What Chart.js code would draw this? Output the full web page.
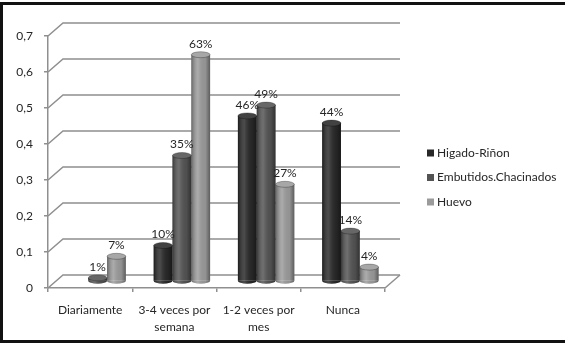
<!DOCTYPE html>
<html lang="es">
<head>
  <meta charset="UTF-8" />
  <title>Frecuencia de consumo</title>
  <script src="https://cdn.jsdelivr.net/npm/chart.js@4"></script>
  <style>
    body { margin: 0; background: #fff; }
    .frame { position: relative; width: 565px; height: 343px; }
    .frame canvas { position: absolute; left: 0; top: 0; }
    .frame .edge {
      position: absolute; left: 0; top: 2px; right: 0; bottom: 0;
      border: 3px solid #111; border-right: none; pointer-events: none;
    }
  </style>
</head>
<body>
  <div class="frame">
    <canvas id="chart" width="565" height="343"></canvas>
    <div class="edge"></div>
  </div>

  <script>
    const categories = ['Diariamente', ['3-4 veces por', 'semana'], ['1-2 veces por', 'mes'], 'Nunca']
    const higadoRinon = [null, 0.10, 0.46, 0.44]
    const embutidos = [0.01, 0.35, 0.49, 0.14]
    const huevo = [0.07, 0.63, 0.27, 0.04]
    const seriesNames = ['Higado-Riñon', 'Embutidos.Chacinados', 'Huevo']
    const seriesColors = ['#282828', '#535353', '#9b9b9b']
    const yMax = 0.7
    const yStep = 0.1

    // depth of the fake 3d box
    const DX = 15
    const DY = 13
    const FONT = 'Lato, "Open Sans", sans-serif'
    const TEXT = '#262626'
    const GRID = '#8f8f8f'

    const box3d = {
      id: 'box3d',
      beforeDatasetsDraw(chart) {
        const ctx = chart.ctx
        const a = chart.chartArea
        const y = chart.scales.y
        ctx.save()
        ctx.strokeStyle = GRID
        ctx.lineWidth = 1.5
        y.ticks.forEach(t => {
          const py = Math.round(y.getPixelForValue(t.value))
          ctx.beginPath()
          ctx.moveTo(a.left, py)
          ctx.lineTo(a.left + DX, py - DY)
          ctx.lineTo(a.right + DX, py - DY)
          ctx.stroke()
        })
        const by = Math.round(a.bottom)
        ctx.beginPath()
        ctx.moveTo(a.right, by)
        ctx.lineTo(a.right + DX, by - DY)
        ctx.stroke()
        ctx.restore()

        // bars stand in the middle of the box depth
        ctx.save()
        ctx.translate(DX / 2, -DY / 2)
      },
      afterDatasetsDraw(chart) {
        const ctx = chart.ctx
        chart.data.datasets.forEach((ds, i) => {
          const meta = chart.getDatasetMeta(i)
          meta.data.forEach((bar, j) => {
            const v = ds.data[j]
            if (v == null) return
            const w = bar.width
            const l = bar.x - w / 2
            const ry = 3
            // cylinder shading
            const g = ctx.createLinearGradient(l, 0, l + w, 0)
            g.addColorStop(0, 'rgba(0,0,0,0.35)')
            g.addColorStop(0.35, 'rgba(255,255,255,0.16)')
            g.addColorStop(0.75, 'rgba(0,0,0,0.05)')
            g.addColorStop(1, 'rgba(0,0,0,0.4)')
            ctx.fillStyle = ds.backgroundColor
            ctx.beginPath()
            ctx.ellipse(bar.x, bar.base, w / 2, ry, 0, 0, Math.PI)
            ctx.fill()
            ctx.fillStyle = g
            ctx.fillRect(l, bar.y, w, bar.base - bar.y)
            ctx.beginPath()
            ctx.ellipse(bar.x, bar.base, w / 2, ry, 0, 0, Math.PI)
            ctx.fill()
            // top cap
            ctx.fillStyle = ds.backgroundColor
            ctx.beginPath()
            ctx.ellipse(bar.x, bar.y, w / 2, ry, 0, 0, Math.PI * 2)
            ctx.fill()
            ctx.fillStyle = 'rgba(255,255,255,0.12)'
            ctx.fill()
            ctx.strokeStyle = 'rgba(0,0,0,0.35)'
            ctx.lineWidth = 0.8
            ctx.stroke()
            // value label
            ctx.fillStyle = TEXT
            ctx.font = '12px ' + FONT
            ctx.textAlign = 'center'
            ctx.textBaseline = 'middle'
            ctx.fillText(Math.round(v * 100) + '%', bar.x, bar.y - 11)
          })
        })
        ctx.restore()
      }
    }

    const sideLegend = {
      id: 'sideLegend',
      afterDraw(chart) {
        const ctx = chart.ctx
        const x = chart.chartArea.right + 42
        const top = 153
        const gap = 24.5
        ctx.save()
        ctx.font = '12px ' + FONT
        ctx.textBaseline = 'middle'
        ctx.textAlign = 'left'
        chart.data.datasets.forEach((ds, i) => {
          const cy = top + i * gap
          ctx.fillStyle = ds.backgroundColor
          ctx.fillRect(x, cy - 3.5, 7, 7)
          ctx.fillStyle = TEXT
          ctx.fillText(ds.label, x + 10, cy)
        })
        ctx.restore()
      }
    }

    const seriesData = [higadoRinon, embutidos, huevo]

    new Chart(document.getElementById('chart'), {
      type: 'bar',
      data: {
        labels: categories,
        datasets: seriesNames.map((name, i) => ({
          label: name,
          data: seriesData[i],
          backgroundColor: seriesColors[i],
          borderWidth: 0,
          categoryPercentage: 0.67,
          barPercentage: 1.0
        }))
      },
      options: {
        responsive: false,
        animation: false,
        layout: { padding: { top: 36, right: 180, left: 0, bottom: 0 } },
        plugins: {
          legend: { display: false },
          tooltip: { enabled: false }
        },
        scales: {
          x: {
            afterFit(s) { s.height = 55 },
            grid: { drawOnChartArea: false, tickLength: 4, color: GRID, lineWidth: 1.5, offset: true },
            border: { color: GRID, width: 1.5 },
            ticks: {
              color: TEXT,
              padding: 10,
              maxRotation: 0,
              font: { family: FONT, size: 12, lineHeight: 1.4 }
            }
          },
          y: {
            min: 0,
            max: yMax,
            afterFit(s) { s.width = 48 },
            grid: { drawOnChartArea: false, tickLength: 4, color: GRID, lineWidth: 1.5 },
            border: { color: GRID, width: 1.5 },
            ticks: {
              stepSize: yStep,
              color: TEXT,
              padding: 11,
              font: { family: FONT, size: 12 },
              callback: v => String(Math.round(v * 10) / 10).replace('.', ',')
            }
          }
        }
      },
      plugins: [box3d, sideLegend]
    })
  </script>
</body>
</html>
